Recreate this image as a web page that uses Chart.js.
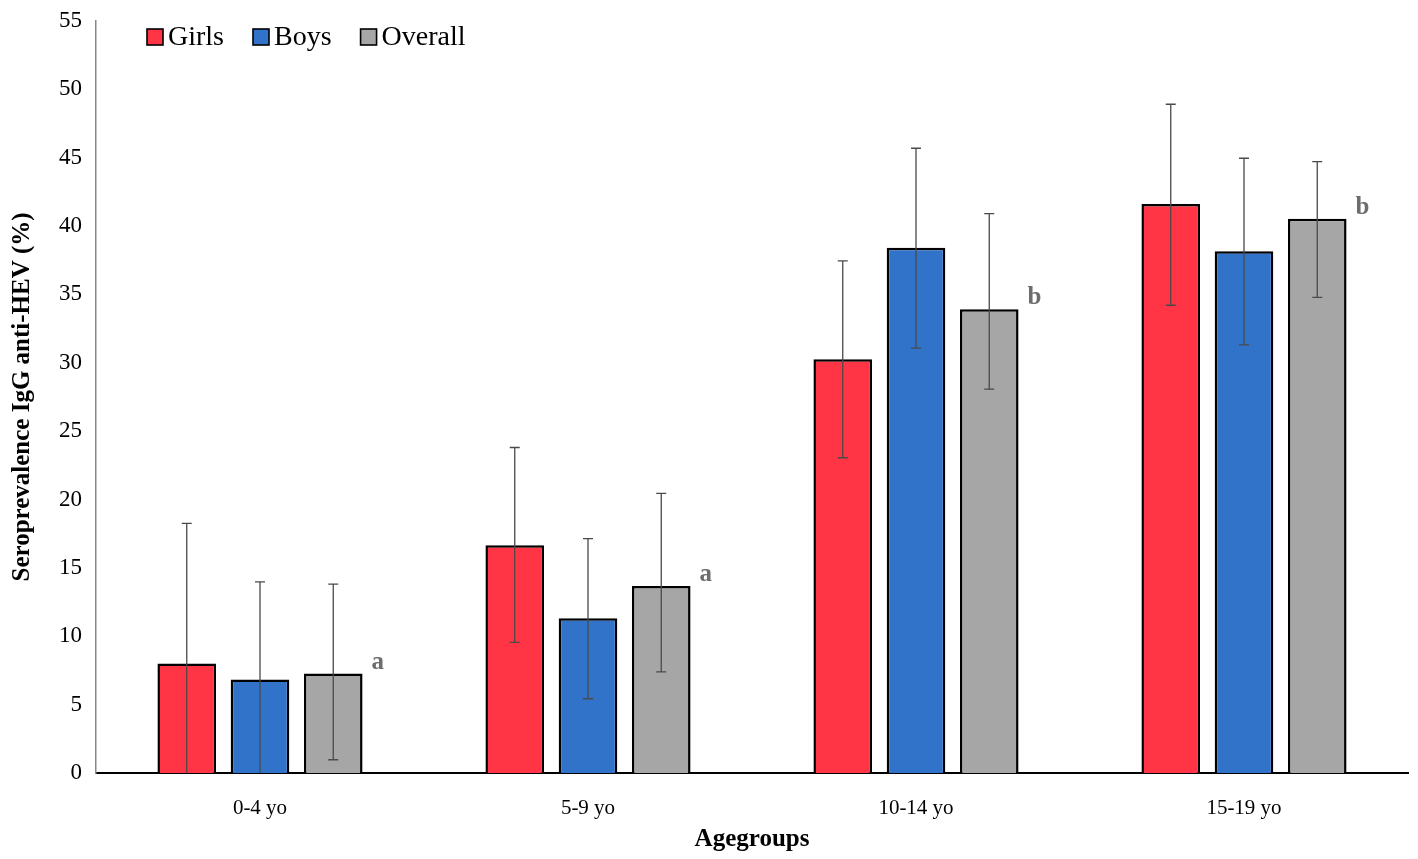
<!DOCTYPE html>
<html>
<head>
<meta charset="utf-8">
<script src="https://cdn.jsdelivr.net/npm/chart.js@4"></script>
<style>
  html, body { margin: 0; padding: 0; background: #fff; }
  #wrap { width: 1418px; height: 859px; }
</style>
</head>
<body>
<div id="wrap"><canvas id="graph"></canvas></div>
<script>
// categories
const ageGroups = ["0-4 yo", "5-9 yo", "10-14 yo", "15-19 yo"]

// bar values (%)
const girls = [8.0, 16.65, 30.25, 41.6]
const boys = [6.83, 11.32, 38.4, 38.15]
const overall = [7.27, 13.67, 33.9, 40.53]

// error bars, low / high (%)
const girlsLow = [0, 9.55, 23.05, 34.2]
const girlsHigh = [18.25, 23.8, 37.45, 48.9]
const boysLow = [0, 5.43, 31.06, 31.3]
const boysHigh = [13.98, 17.13, 45.68, 44.95]
const overallLow = [0.97, 7.39, 28.07, 34.77]
const overallHigh = [13.81, 20.45, 40.9, 44.7]

// significance letters over the overall bars
const letters = ["a", "a", "b", "b"]

const yTicks = [0, 5, 10, 15, 20, 25, 30, 35, 40, 45, 50, 55]

const serif = "'Liberation Serif', 'Times New Roman', serif"

let errors = [
    { low: girlsLow, high: girlsHigh },
    { low: boysLow, high: boysHigh },
    { low: overallLow, high: overallHigh }
]

const errorBars = {
    id: "errorBars",
    afterDatasetsDraw(chart) {
        let ctx = chart.ctx
        let y = chart.scales.y
        ctx.save()
        ctx.strokeStyle = "#4a4a4a"
        ctx.lineWidth = 1.3
        for (let d = 0; d < errors.length; d++) {
            let meta = chart.getDatasetMeta(d)
            meta.data.forEach((bar, i) => {
                let x = bar.x
                let yl = y.getPixelForValue(errors[d].low[i])
                let yh = y.getPixelForValue(errors[d].high[i])
                ctx.beginPath()
                ctx.moveTo(x, yl)
                ctx.lineTo(x, yh)
                ctx.moveTo(x - 5, yh)
                ctx.lineTo(x + 5, yh)
                if (errors[d].low[i] > 0) {
                    ctx.moveTo(x - 5, yl)
                    ctx.lineTo(x + 5, yl)
                }
                ctx.stroke()
            })
        }
        // letters next to the overall bars
        let meta = chart.getDatasetMeta(2)
        ctx.fillStyle = "#6d6d6d"
        ctx.font = "bold 25px " + serif
        ctx.textAlign = "left"
        ctx.textBaseline = "alphabetic"
        meta.data.forEach((bar, i) => {
            ctx.fillText(letters[i], bar.x + bar.width / 2 + 9, bar.y - 5)
        })
        ctx.restore()
    }
}

// legend in one row at the top left of the plot
const rowLegend = {
    id: "rowLegend",
    afterDraw(chart) {
        let ctx = chart.ctx
        let x = chart.chartArea.left + 51
        let yMid = 37
        ctx.save()
        ctx.font = "28px " + serif
        ctx.textBaseline = "middle"
        ctx.textAlign = "left"
        chart.data.datasets.forEach(ds => {
            ctx.fillStyle = ds.backgroundColor
            ctx.fillRect(x, yMid - 8, 16, 16)
            ctx.strokeStyle = "#000"
            ctx.lineWidth = 1.6
            ctx.strokeRect(x, yMid - 8, 16, 16)
            ctx.fillStyle = "#000"
            ctx.fillText(ds.label, x + 21, yMid + 1)
            x += 21 + ctx.measureText(ds.label).width + 29
        })
        ctx.restore()
    }
}

const config = {
    type: "bar",
    data: {
        labels: ageGroups,
        datasets: [
            { label: "Girls", data: girls, backgroundColor: "#ff3545", borderColor: "#000", borderWidth: 2.5, borderSkipped: "bottom" },
            { label: "Boys", data: boys, backgroundColor: "#3173c9", borderColor: "#000", borderWidth: 2.5, borderSkipped: "bottom" },
            { label: "Overall", data: overall, backgroundColor: "#a6a6a6", borderColor: "#000", borderWidth: 2.5, borderSkipped: "bottom" }
        ]
    },
    options: {
        responsive: true,
        maintainAspectRatio: false,
        animation: false,
        devicePixelRatio: 1,
        layout: { padding: { top: 18, right: 10, left: 0, bottom: 0 } },
        datasets: { bar: { categoryPercentage: 0.67, barPercentage: 0.8 } },
        plugins: {
            tooltip: { enabled: false },
            legend: { display: false }
        },
        scales: {
            x: {
                grid: { display: false, drawTicks: false },
                border: { color: "#000", width: 2 },
                ticks: { color: "#000", font: { family: serif, size: 21 }, padding: 23 },
                title: { display: true, text: "Agegroups", color: "#000", font: { family: serif, size: 25, weight: "bold" }, padding: { top: 0 } },
                afterFit(scale) { scale.height = 86 }
            },
            y: {
                min: 0,
                max: 55,
                afterBuildTicks(scale) { scale.ticks = yTicks.map(v => ({ value: v })) },
                grid: { display: false, drawTicks: true, tickLength: 7, tickColor: "#888", drawOnChartArea: false },
                border: { color: "#888", width: 1.5 },
                ticks: { color: "#000", font: { family: serif, size: 23 }, padding: 7 },
                title: { display: true, text: "Seroprevalence IgG anti-HEV (%)", color: "#000", font: { family: serif, size: 25, weight: "bold" }, padding: { top: 8, bottom: 10 } },
                afterFit(scale) { scale.width = 96 }
            }
        }
    },
    plugins: [errorBars, rowLegend]
}

let chart = new Chart(document.getElementById("graph").getContext("2d"), config)
</script>
</body>
</html>
